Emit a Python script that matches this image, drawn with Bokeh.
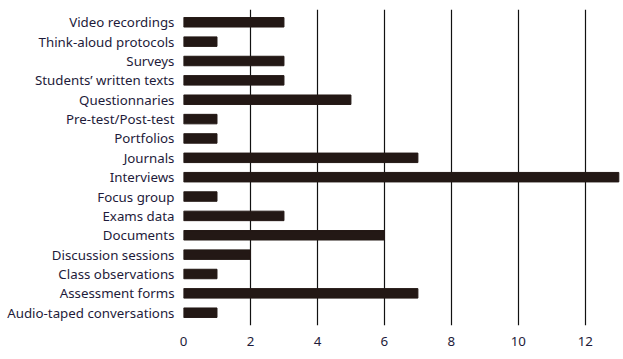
from bokeh.plotting import figure
from bokeh.models import FixedTicker, Range1d
from bokeh.embed import file_html
from bokeh.resources import INLINE

categories = ["Video recordings", "Think-aloud protocols", "Surveys", "Students\u2019 written texts",
              "Questionnaries", "Pre-test/Post-test", "Portfolios", "Journals", "Interviews",
              "Focus group", "Exams data", "Documents", "Discussion sessions",
              "Class observations", "Assessment forms", "Audio-taped conversations"]
counts = [3, 1, 3, 3, 5, 1, 1, 7, 13, 1, 3, 6, 2, 1, 7, 1]
x_ticks = [0, 2, 4, 6, 8, 10, 12]

p = figure(y_range=list(reversed(categories)), x_range=Range1d(0, 13.05),
           width=621, height=351, output_backend="svg", toolbar_location=None,
           min_border_left=183, min_border_right=1, min_border_top=9, min_border_bottom=26)
p.hbar(y=categories, right=counts, left=0, height=0.49, color="#231815")

p.outline_line_color = None
p.xgrid.ticker = FixedTicker(ticks=x_ticks)
p.xgrid.grid_line_color = "#111111"
p.xgrid.grid_line_width = 1.2
p.ygrid.grid_line_color = None
p.xaxis.ticker = FixedTicker(ticks=x_ticks)
for ax in (p.xaxis[0], p.yaxis[0]):
    ax.axis_line_color = None
    ax.major_tick_line_color = None
    ax.minor_tick_line_color = None
    ax.major_tick_out = 0
    ax.major_tick_in = 0
    ax.minor_tick_out = 0
    ax.major_label_text_font = "Noto Sans"
    ax.major_label_text_font_size = "13.3px"
    ax.major_label_text_color = "#1e1b3a"
p.xaxis.major_label_standoff = 11
p.yaxis.major_label_standoff = 9
p.y_range.range_padding = 0.02

open("out.html", "w").write(file_html(p, INLINE))
